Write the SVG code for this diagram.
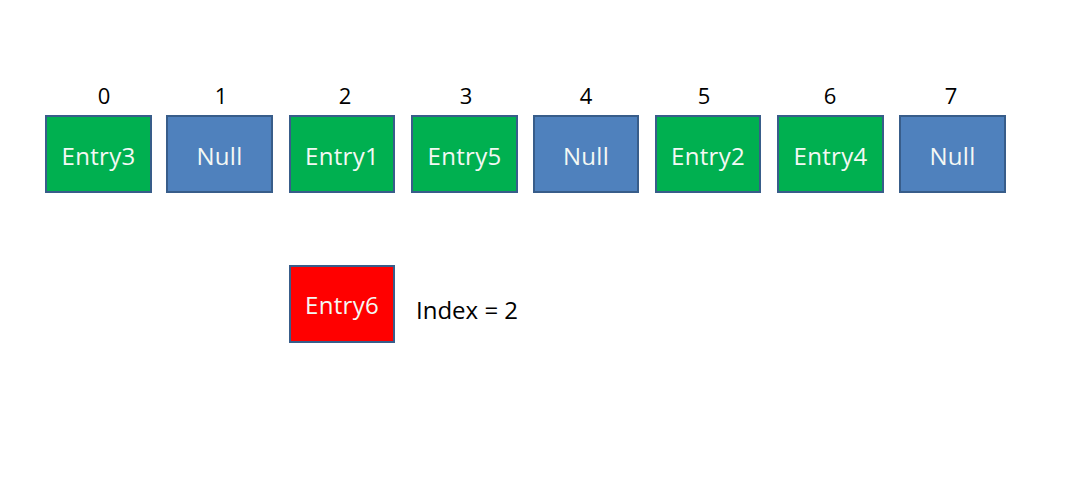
<svg xmlns="http://www.w3.org/2000/svg" width="1080" height="484" viewBox="0 0 1080 484">
<style>
.box{stroke:#385D8A;stroke-width:2}
.g{fill:#00B050}.b{fill:#4F81BD}.r{fill:#FF0000}
.t{font-family:"Open Sans","Liberation Sans",sans-serif;font-size:24px;fill:#f4f8f4;text-anchor:middle;dominant-baseline:central;letter-spacing:0.3px}
.n{font-family:"Open Sans","Liberation Sans",sans-serif;font-size:22px;fill:#000;text-anchor:middle}
.l{font-family:"Open Sans","Liberation Sans",sans-serif;font-size:24px;fill:#000}
</style>
<rect width="1080" height="484" fill="#fff"/>
<g id="indices">
<text class="n" x="104" y="104">0</text>
<text class="n" x="221" y="104">1</text>
<text class="n" x="345" y="104">2</text>
<text class="n" x="466" y="104">3</text>
<text class="n" x="586" y="104">4</text>
<text class="n" x="704" y="104">5</text>
<text class="n" x="830" y="104">6</text>
<text class="n" x="951" y="104">7</text>
</g>
<g id="slot0"><rect class="box g" x="46" y="116" width="105" height="76"/><text class="t" x="98.5" y="155">Entry3</text></g>
<g id="slot1"><rect class="box b" x="167" y="116" width="105" height="76"/><text class="t" x="219.5" y="155">Null</text></g>
<g id="slot2"><rect class="box g" x="290" y="116" width="104" height="76"/><text class="t" x="342" y="155">Entry1</text></g>
<g id="slot3"><rect class="box g" x="412" y="116" width="105" height="76"/><text class="t" x="464.5" y="155">Entry5</text></g>
<g id="slot4"><rect class="box b" x="534" y="116" width="104" height="76"/><text class="t" x="586" y="155">Null</text></g>
<g id="slot5"><rect class="box g" x="656" y="116" width="104" height="76"/><text class="t" x="708" y="155">Entry2</text></g>
<g id="slot6"><rect class="box g" x="778" y="116" width="105" height="76"/><text class="t" x="830.5" y="155">Entry4</text></g>
<g id="slot7"><rect class="box b" x="900" y="116" width="105" height="76"/><text class="t" x="952.5" y="155">Null</text></g>
<g id="entry6"><rect class="box r" x="290" y="266" width="104" height="76"/><text class="t" x="342" y="304">Entry6</text></g>
<g id="indexLabel"><text class="l" x="416" y="319">Index = 2</text></g>
<g id="connectors"></g>
</svg>
